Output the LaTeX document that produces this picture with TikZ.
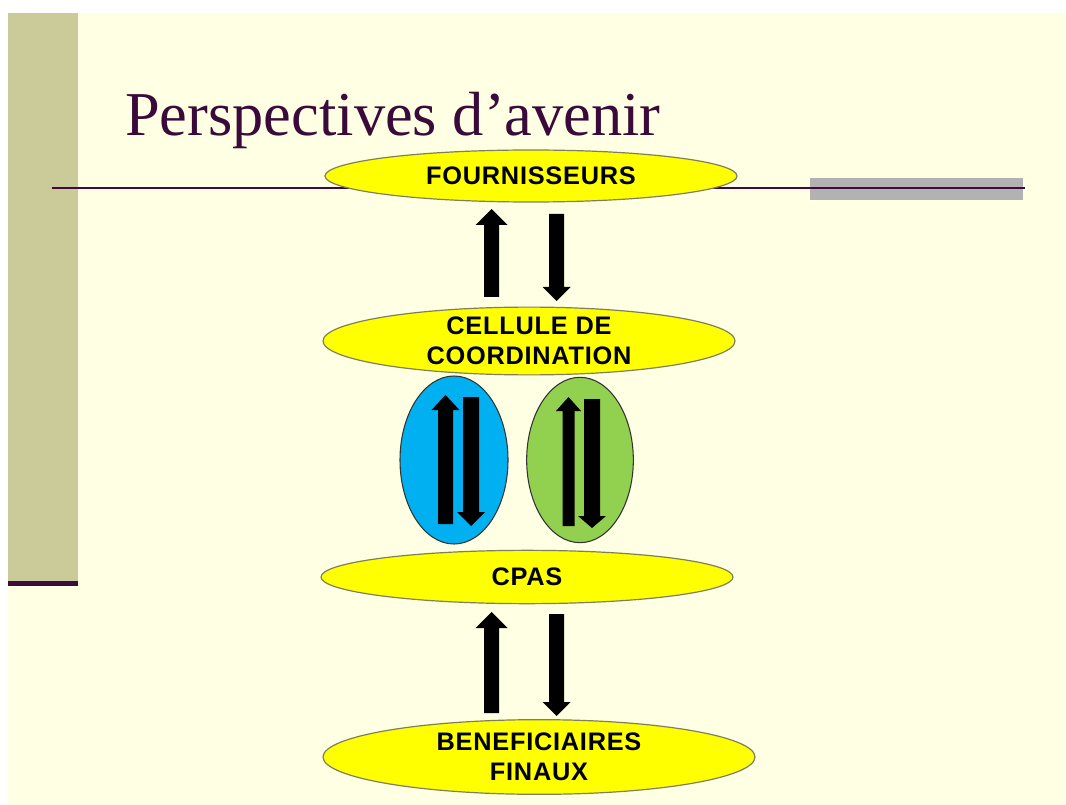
\documentclass[tikz,border=0pt]{standalone}
\usepackage{fontspec}
\setmainfont{Liberation Serif}
\setsansfont{Liberation Sans}
\usetikzlibrary{shapes.geometric}

\definecolor{slidebg}{HTML}{FFFFE3}
\definecolor{bandcol}{HTML}{CBCB99}
\definecolor{rulecol}{HTML}{3F0A3F}
\definecolor{titlecol}{HTML}{3A0A3A}
\definecolor{barcol}{HTML}{B2B2B2}
\definecolor{ovalfill}{HTML}{FFFF00}
\definecolor{ovalline}{HTML}{7F7F60}
\definecolor{bluefill}{HTML}{00B0F0}
\definecolor{greenfill}{HTML}{92D050}

\tikzset{
  oval/.style={ellipse, fill=ovalfill, draw=ovalline, line width=0.9pt,
    inner sep=0pt, align=center,
    font=\sffamily\bfseries\addfontfeatures{LetterSpace=3}\fontsize{19}{22.5}\selectfont},
  pill/.style={ellipse, draw=black!80, line width=0.8pt, inner sep=0pt},
  blockarrow/.style={fill=black, draw=none}
}

% block arrow: #1 = centre x, #2 = tail y, #3 = tip y, #4 = shaft half width,
% #5 = head half width, #6 = head length
\newcommand{\blockarr}[6]{%
  \pgfmathsetmacro{\dirsign}{(#3>#2)?1:-1}%
  \pgfmathsetmacro{\headbase}{#3-\dirsign*#6}%
  \fill[blockarrow] (#1-#4,#2) -- (#1-#4,\headbase) -- (#1-#5,\headbase)
     -- (#1,#3) -- (#1+#5,\headbase) -- (#1+#4,\headbase) -- (#1+#4,#2) -- cycle;}

\begin{document}
\begin{tikzpicture}[x=0.75pt, y=-0.75pt]
  % page and slide background
  \fill[white] (0,0) rectangle (1066,805);
  \fill[slidebg] (8,13) rectangle (1066,805);
  \useasboundingbox (0,0) rectangle (1066,805);

  % left band with its foot rule
  \fill[bandcol] (8,13) rectangle (78,585);
  \fill[rulecol] (8,581) rectangle (78,586);

  % grey bar and title rule
  \fill[barcol] (810,178) rectangle (1023,200);
  \draw[rulecol, line width=1.6pt] (52,188) -- (1025,188);

  % title
  \node[anchor=base west, inner sep=0pt, text=titlecol,
        font=\fontsize{46.8}{50}\selectfont] (title) at (125,136)
        {Perspectives d’avenir};

  % main ovals
  \node[oval, minimum width=309pt, minimum height=39pt]
        (four) at (531,176) {FOURNISSEURS};
  \node[oval, minimum width=309pt, minimum height=46.5pt]
        (cell) at (529,341) {CELLULE DE\\COORDINATION};
  \node[oval, minimum width=309pt, minimum height=40pt]
        (cpas) at (527,577) {CPAS};
  \node[oval, minimum width=324pt, minimum height=56pt]
        (benef) at (539,757) {BENEFICIAIRES\\FINAUX};

  % coloured ovals between coordination and CPAS
  \node[pill, fill=bluefill, minimum width=81pt, minimum height=126pt]
        (blue) at (454,460) {};
  \node[pill, fill=greenfill, minimum width=80pt, minimum height=124pt]
        (green) at (580,460) {};

  % arrows between suppliers and coordination
  \blockarr{491.5}{297}{209}{7.5}{16}{16}
  \blockarr{556.5}{214}{301}{7.5}{14}{14}

  % arrows inside the blue oval
  \blockarr{445.5}{524}{395}{7.5}{14}{15}
  \blockarr{471}{397}{526}{8}{14}{14}

  % arrows inside the green oval
  \blockarr{568.5}{526}{397}{6}{12.5}{14}
  \blockarr{592}{399}{528}{8}{14}{12}

  % arrows between CPAS and final beneficiaries
  \blockarr{491.5}{713}{612}{7.5}{16}{16}
  \blockarr{556.5}{614}{716}{7.5}{14}{14}
\end{tikzpicture}
\end{document}
